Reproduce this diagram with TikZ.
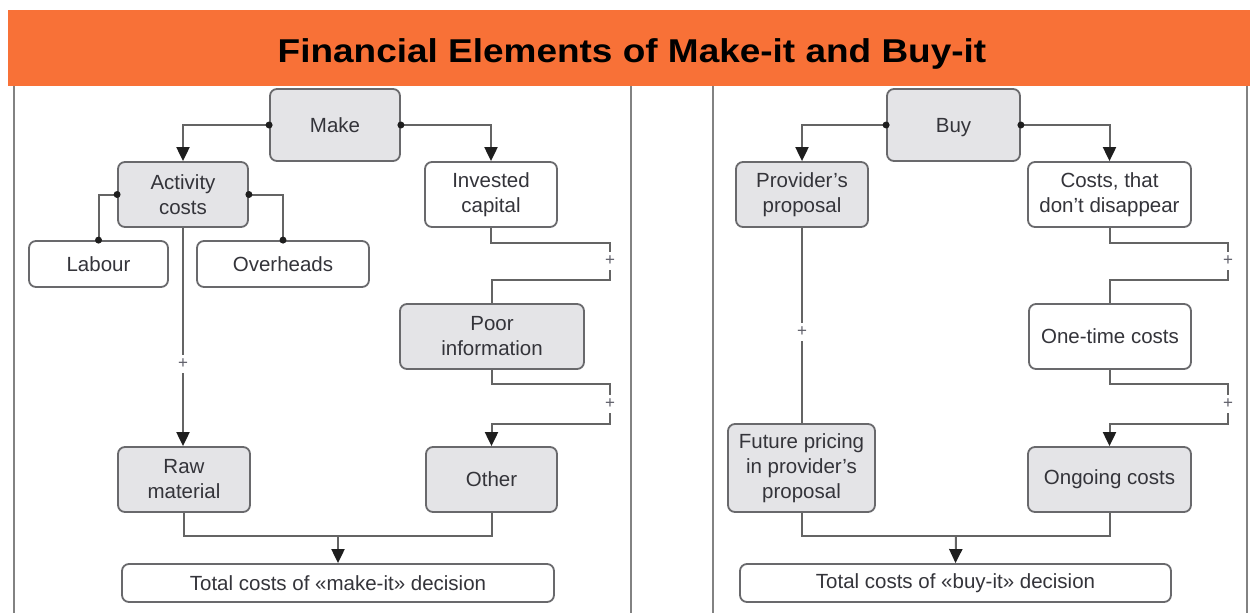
\documentclass[tikz,border=0pt]{standalone}
\usepackage{fontspec}
\setmainfont{Liberation Sans}
\usetikzlibrary{arrows.meta}
\definecolor{banner}{RGB}{248,113,55}
\definecolor{boxline}{RGB}{105,105,108}
\definecolor{boxfill}{RGB}{228,228,231}
\definecolor{txt}{RGB}{52,52,58}
\definecolor{lineclr}{RGB}{100,100,100}
\definecolor{arrclr}{RGB}{30,30,30}
\definecolor{panelclr}{RGB}{130,130,130}
\definecolor{pluscol}{RGB}{95,95,105}
\begin{document}
\begin{tikzpicture}[x=1pt,y=-1pt,
  box/.style={draw=boxline, line width=1.8pt, rounded corners=7pt, align=center,
    font=\fontsize{20.5}{25}\selectfont, text=txt, inner sep=0pt},
  gbox/.style={box, fill=boxfill},
  wbox/.style={box, fill=white},
  conn/.style={draw=lineclr, line width=2pt},
  arr/.style={conn, -{Triangle[length=14pt,width=13pt,color=arrclr]}},
  dotc/.style={circle, fill=arrclr, inner sep=0pt, minimum size=7pt},
  plus/.style={fill=white, inner sep=0pt, minimum width=11pt, minimum height=18pt,
    text=pluscol, font=\fontsize{17}{17}\selectfont},
  panel/.style={draw=panelclr, line width=2pt}]
\useasboundingbox (0,0) rectangle (1250,613);
% banner
\fill[banner] (8,10) rectangle (1250,86);
\node[anchor=base, inner sep=0pt, font=\bfseries\fontsize{33}{33}\selectfont, text=black] (title) at (632,62)
  {\scalebox{1.12}[1]{Financial Elements of Make-it and Buy-it}};
% panel borders
\draw[panel] (14,86) -- (14,613);
\draw[panel] (631,86) -- (631,613);
\draw[panel] (713,86) -- (713,613);
\draw[panel] (1247,86) -- (1247,613);

% ---------- Make panel ----------
\node[gbox, minimum width=130pt, minimum height=72pt] (make) at (335,125) {Make};
\node[gbox, minimum width=130pt, minimum height=65pt] (act) at (183,194.5) {Activity\\costs};
\node[wbox, minimum width=139pt, minimum height=46pt] (lab) at (98.5,264) {Labour};
\node[wbox, minimum width=172pt, minimum height=46pt] (ovh) at (283,264) {Overheads};
\node[wbox, minimum width=132pt, minimum height=65pt] (inv) at (491,194.5) {Invested\\capital};
\node[gbox, minimum width=184pt, minimum height=65pt] (poor) at (492,336.5) {Poor\\information};
\node[gbox, minimum width=132pt, minimum height=65pt] (raw) at (184,479.5) {Raw\\material};
\node[gbox, minimum width=131pt, minimum height=65pt] (oth) at (491.5,479.5) {Other};
\node[wbox, minimum width=432pt, minimum height=38pt] (totm) at (338,583) {Total costs of «make-it» decision};

\draw[arr] (make.west) -| (act.north);
\draw[arr] (make.east) -| (inv.north);
\draw[conn] (act.west) -| (lab.north);
\draw[conn] (act.east) -| (ovh.north);
\node[dotc] at (make.west) {};
\node[dotc] at (make.east) {};
\node[dotc] at (act.west) {};
\node[dotc] at (act.east) {};
\node[dotc] at (lab.north) {};
\node[dotc] at (ovh.north) {};

\draw[arr] (act.south) -- (act.south |- raw.north);
\node[plus] (pm1) at (183,364) {+};

\draw[conn] (inv.south) -- ++(0,15) -| (610,280) -| (poor.north);
\node[plus] (pm2) at (610,261) {+};
\draw[arr] (poor.south) -- ++(0,14) -| (610,424) -| (oth.north);
\node[plus] (pm3) at (610,404) {+};

\coordinate (mjoin) at (338,536);
\draw[conn] (raw.south) |- (mjoin) -| (oth.south);
\draw[arr] (mjoin) -- (totm.north);

% ---------- Buy panel ----------
\node[gbox, minimum width=133pt, minimum height=72pt, text depth=0pt] (buy) at (953.5,125) {Buy};
\node[gbox, minimum width=132pt, minimum height=65pt] (prov) at (802,194.5) {Provider's\\proposal};
\node[wbox, minimum width=163pt, minimum height=65pt] (cst) at (1109.5,194.5) {Costs, that\\don't disappear};
\node[wbox, minimum width=162pt, minimum height=65pt] (one) at (1110,336.5) {One-time costs};
\node[gbox, minimum width=147pt, minimum height=88pt] (fut) at (801.5,468) {Future pricing\\in provider's\\proposal};
\node[gbox, minimum width=163pt, minimum height=65pt] (ong) at (1109.5,479.5) {Ongoing costs};
\node[wbox, minimum width=431pt, minimum height=38pt] (totb) at (955.5,583) {Total costs of «buy-it» decision};

\draw[arr] (buy.west) -| (prov.north);
\draw[arr] (buy.east) -| (cst.north);
\node[dotc] at (buy.west) {};
\node[dotc] at (buy.east) {};

\draw[conn] (prov.south) -- (prov.south |- fut.north);
\node[plus] (pb1) at (802,332) {+};

\draw[conn] (cst.south) -- ++(0,15) -| (1228,280) -| (one.north);
\node[plus] (pb2) at (1228,261) {+};
\draw[arr] (one.south) -- ++(0,14) -| (1228,424) -| (ong.north);
\node[plus] (pb3) at (1228,404) {+};

\coordinate (bjoin) at (956,536);
\draw[conn] (fut.south) |- (bjoin) -| (ong.south);
\draw[arr] (bjoin) -- (totb.north);
\end{tikzpicture}
\end{document}
